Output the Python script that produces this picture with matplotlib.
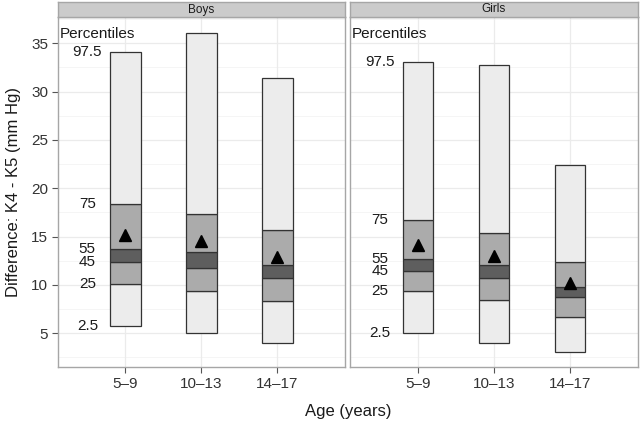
import matplotlib
matplotlib.use("Agg")
import matplotlib.pyplot as plt
from matplotlib.patches import Rectangle

plt.rcParams['font.family'] = ['Liberation Sans', 'DejaVu Sans']

panels = ["Boys", "Girls"]
ages = ["5\u20139", "10\u201313", "14\u201317"]
pct_labels = ["2.5", "25", "45", "55", "75", "97.5"]

# percentiles (2.5, 25, 45, 55, 75, 97.5) per age group
boys_p = [
    [5.75, 10.07, 12.37, 13.69, 18.37, 34.05],
    [5.03, 9.37, 11.72, 13.38, 17.37, 36.05],
    [4.03, 8.37, 10.72, 12.03, 15.72, 31.37],
]
girls_p = [
    [5.03, 9.41, 11.41, 12.72, 16.72, 33.06],
    [4.03, 8.41, 10.72, 12.03, 15.41, 32.71],
    [3.03, 6.72, 8.72, 9.76, 12.41, 22.40],
]
boys_mean = [15.15, 14.5, 12.9]
girls_mean = [14.1, 13.0, 10.15]

data = {"Boys": (boys_p, boys_mean), "Girls": (girls_p, girls_mean)}

seg_colors = ["#ECECEC", "#ABABAB", "#5E5E5E", "#ABABAB", "#ECECEC"]

W, H = 640, 423
fig = plt.figure(figsize=(W / 100, H / 100), dpi=100)

def fx(px):
    return px / W

def fy(py):
    return 1 - py / H

panel_px = [(57.7, 345.0), (350.0, 638.0)]
top_px, bot_px, strip_top = 17.3, 367.3, 1.7
ylim = (1.48, 37.68)
xlim = (1 - 0.89, 3 + 0.89)
grid_c = "#EBEBEB"
border_c = "#A6A6A6"

axes = []
for i, name in enumerate(panels):
    l, r = panel_px[i]
    ax = fig.add_axes([fx(l), fy(bot_px), fx(r) - fx(l), (bot_px - top_px) / H])
    axes.append(ax)
    ax.set_xlim(*xlim)
    ax.set_ylim(*ylim)
    for y in [2.5, 7.5, 12.5, 17.5, 22.5, 27.5, 32.5, 37.5]:
        ax.axhline(y, color="#F4F4F4", lw=0.6, zorder=0)
    for y in [5, 10, 15, 20, 25, 30, 35]:
        ax.axhline(y, color=grid_c, lw=0.9, zorder=0)
    for x in [1, 2, 3]:
        ax.axvline(x, color=grid_c, lw=0.9, zorder=0)
    perc, means = data[name]
    for j, p in enumerate(perc):
        x = j + 1
        for k in range(5):
            ax.add_patch(Rectangle((x - 0.2, p[k]), 0.4, p[k + 1] - p[k],
                                   facecolor=seg_colors[k], edgecolor="#333333",
                                   lw=0.9, zorder=2))
        ax.plot([x], [means[j]], marker="^", color="black", ms=8.5,
                linestyle="none", zorder=3)
    # percentile labels at first bar values
    for lab, v in zip(pct_labels, perc[0]):
        ax.text(0.5, v, lab, ha="center", va="center", fontsize=11,
                color="#1A1A1A", zorder=4)
    ax.text(0.135, 36.0, "Percentiles", ha="left", va="center", fontsize=11,
            color="#1A1A1A", zorder=4)
    ax.set_xticks([1, 2, 3])
    ax.set_xticklabels(ages, fontsize=11, color="#333333")
    ax.set_yticks([5, 10, 15, 20, 25, 30, 35])
    if i == 0:
        ax.set_yticklabels([str(v) for v in [5, 10, 15, 20, 25, 30, 35]],
                           fontsize=11, color="#333333")
    else:
        ax.tick_params(axis="y", left=False, labelleft=False)
    ax.tick_params(axis="both", direction="out", length=4, width=0.8,
                   color="#555555", pad=3)
    for s in ax.spines.values():
        s.set_color(border_c)
        s.set_linewidth(1.0)
    # strip
    sax = fig.add_axes([fx(l), fy(top_px), fx(r) - fx(l), (top_px - strip_top) / H])
    sax.set_xticks([])
    sax.set_yticks([])
    sax.set_facecolor("#CBCBCB")
    for s in sax.spines.values():
        s.set_color(border_c)
        s.set_linewidth(1.0)
    sax.text(0.5, 0.5, name, ha="center", va="center", fontsize=8.5,
             color="#1A1A1A", transform=sax.transAxes)

fig.text(fx(14), fy((top_px + bot_px) / 2), "Difference: K4 - K5 (mm Hg)",
         rotation=90, ha="center", va="center", fontsize=12, color="#1A1A1A")
fig.text(fx((57.7 + 638) / 2), fy(411), "Age (years)", ha="center",
         va="center", fontsize=12, color="#1A1A1A")

fig.savefig("out.png", dpi=100)
